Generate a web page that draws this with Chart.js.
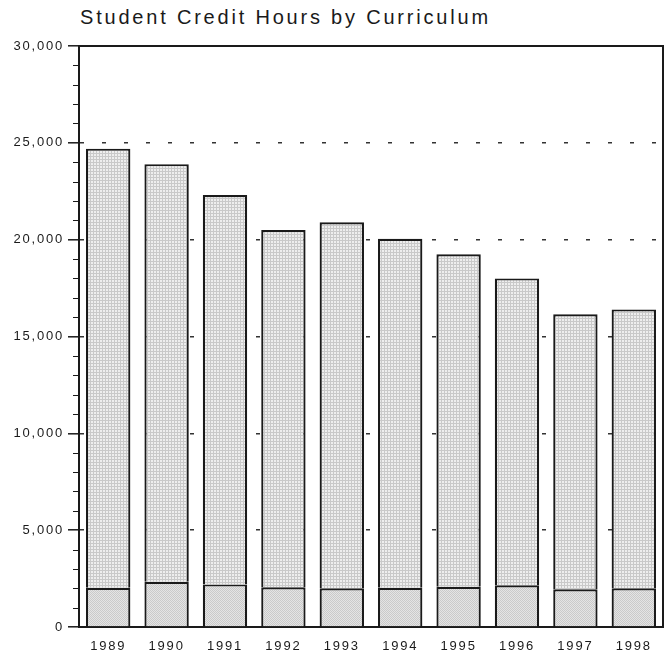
<!DOCTYPE html>
<html>
<head>
<meta charset="utf-8">
<script src="https://cdn.jsdelivr.net/npm/chart.js@4"></script>
<style>
  body { margin: 0; background: #fff; }
  #wrap { position: relative; width: 665px; height: 656px; }
  #title {
    position: absolute; left: 80px; top: 6px;
    font: 20px "Liberation Sans", Arial, sans-serif;
    letter-spacing: 2.8px; color: #1a1a1a; white-space: nowrap;
  }
  canvas { position: absolute; left: 0; top: 0; }
</style>
</head>
<body>
<div id="wrap">
  <div id="title">Student Credit Hours by Curriculum</div>
  <canvas id="creditChart" width="665" height="656"></canvas>
</div>
<script>
// values
const years = ['1989', '1990', '1991', '1992', '1993', '1994', '1995', '1996', '1997', '1998'];
const baseHours = [2030, 2340, 2200, 2050, 2000, 2030, 2080, 2150, 1950, 2000];
const upperHours = [22670, 21560, 20100, 18450, 18900, 18020, 17170, 15850, 14200, 14400];
const yTicks = [0, 5000, 10000, 15000, 20000, 25000, 30000];

const ink = '#1a1a1a';

// little tiles to imitate the screened fills
const makePattern = (size, paint) => {
  const c = document.createElement('canvas');
  c.width = size; c.height = size;
  const g = c.getContext('2d');
  paint(g);
  return g.createPattern(c, 'repeat');
};

const gridFill = makePattern(3, g => {
  g.fillStyle = '#eeeeee';
  g.fillRect(0, 0, 3, 3);
  g.fillStyle = '#c9c9c9';
  g.fillRect(0, 0, 3, 1);
  g.fillRect(0, 0, 1, 3);
});

const dotFill = makePattern(2, g => {
  g.fillStyle = '#e4e4e4';
  g.fillRect(0, 0, 2, 2);
  g.fillStyle = '#cacaca';
  g.fillRect(0, 0, 1, 1);
  g.fillRect(1, 1, 1, 1);
});

// spaced-out lettering like the original typesetting
const spacing = {
  id: 'spacing',
  beforeDraw(chart) {
    chart.ctx.letterSpacing = '1.8px';
  }
};

// frame on top/right plus the short minor ticks on the y axis
const frame = {
  id: 'frame',
  afterDraw(chart) {
    const { ctx, chartArea: a, scales: { y } } = chart;
    ctx.save();
    ctx.strokeStyle = ink;
    ctx.lineWidth = 2;
    ctx.beginPath();
    ctx.moveTo(a.left, a.top);
    ctx.lineTo(a.right, a.top);
    ctx.lineTo(a.right, a.bottom);
    ctx.stroke();
    ctx.lineWidth = 1.2;
    ctx.beginPath();
    for (let v = 1000; v < 30000; v += 1000) {
      if (v % 5000 === 0) continue;
      const py = Math.round(y.getPixelForValue(v)) + 0.5;
      ctx.moveTo(a.left - 6, py);
      ctx.lineTo(a.left, py);
    }
    ctx.stroke();
    ctx.restore();
  }
};

new Chart(document.getElementById('creditChart'), {
  type: 'bar',
  data: {
    labels: years,
    datasets: [
      {
        label: 'Base',
        data: baseHours,
        backgroundColor: dotFill,
        borderColor: ink,
        borderWidth: 2.2
      },
      {
        label: 'Upper',
        data: upperHours,
        backgroundColor: gridFill,
        borderColor: ink,
        borderWidth: 2.2
      }
    ]
  },
  options: {
    responsive: false,
    devicePixelRatio: 1,
    animation: false,
    layout: { padding: { top: 46, right: 2, left: 0, bottom: 0 } },
    datasets: { bar: { barPercentage: 0.76, categoryPercentage: 1 } },
    plugins: {
      legend: { display: false },
      tooltip: { enabled: false }
    },
    scales: {
      x: {
        stacked: true,
        grid: { display: false },
        border: { color: ink, width: 2 },
        ticks: {
          color: ink,
          padding: 4,
          font: { family: '"Liberation Sans", Arial, sans-serif', size: 13 }
        },
        afterFit: s => { s.height = 29; }
      },
      y: {
        stacked: true,
        min: 0,
        max: 30000,
        afterBuildTicks: s => { s.ticks = yTicks.map(v => ({ value: v })); },
        ticks: {
          color: ink,
          padding: 4,
          font: { family: '"Liberation Sans", Arial, sans-serif', size: 13 },
          callback: v => v.toLocaleString('en-US')
        },
        grid: {
          tickLength: 11,
          tickColor: ink,
          tickWidth: 1.5,
          lineWidth: 1.6,
          color: c => (c.tick && (c.tick.value === 0 || c.tick.value === 30000)) ? 'rgba(0,0,0,0)' : '#333'
        },
        border: { color: ink, width: 2, dash: [4, 18] },
        afterFit: s => { s.width = 79; }
      }
    }
  },
  plugins: [spacing, frame]
});
</script>
</body>
</html>
